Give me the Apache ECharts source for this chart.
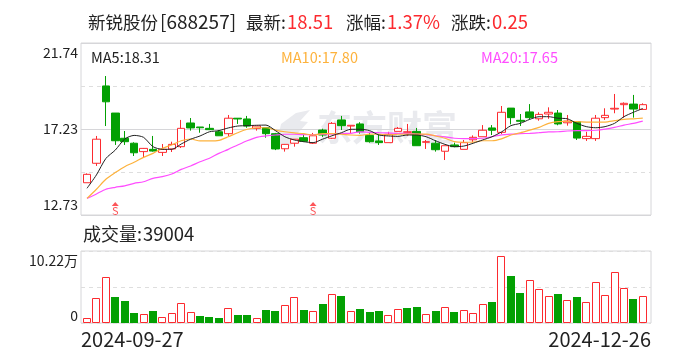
<!DOCTYPE html>
<html><head><meta charset="utf-8">
<style>html,body{margin:0;padding:0;background:#fff}#c{width:688px;height:360px}</style>
<script src="https://cdn.jsdelivr.net/npm/echarts@6/dist/echarts.min.js"></script>
</head><body><div id="c"></div>
<script>
// [open, close, low, high]
const candles = [
[14.42,14.86,14.42,14.91],[15.44,16.70,15.30,16.87],[19.49,18.66,17.39,20.01],[18.07,16.62,16.40,18.07],
[16.75,16.57,16.40,17.13],[16.49,15.99,15.82,16.54],[16.05,16.22,15.75,16.24],[16.17,16.08,16.05,16.87],
[16.01,16.17,15.82,16.45],[16.19,16.43,16.03,16.57],[16.31,17.27,16.24,17.71],[17.55,17.29,17.15,17.81],
[17.34,17.30,17.04,17.34],[17.27,17.20,17.18,17.50],[17.09,16.88,16.87,17.18],[16.99,17.80,16.87,17.97],
[17.80,17.76,17.50,17.81],[17.76,17.39,17.30,17.92],[17.27,17.39,17.15,17.39],[17.30,16.99,16.78,17.30],
[16.99,16.19,16.13,17.03],[16.20,16.43,16.05,16.45],[16.49,16.70,16.31,16.71],[16.78,16.59,16.55,16.92],
[16.49,16.88,16.45,17.03],[17.18,16.92,16.82,17.25],[16.75,17.53,16.71,17.60],[17.71,17.41,17.18,17.92],
[17.39,17.43,17.01,17.44],[17.50,17.09,16.99,17.59],[16.90,16.57,16.52,17.09],[16.61,16.52,16.40,16.92],
[16.52,16.96,16.52,17.09],[17.11,17.27,17.11,17.34],[17.06,17.09,16.88,17.50],[17.11,16.36,16.36,17.29],
[16.54,16.57,16.19,16.66],[16.49,16.15,16.05,16.66],[16.07,16.36,15.61,16.36],[16.40,16.31,16.28,16.52],
[16.17,16.52,16.17,16.66],[16.67,16.80,16.54,16.90],[16.83,17.17,16.83,17.44],[17.29,17.17,16.92,17.44],
[17.06,18.11,16.97,18.44],[18.33,17.83,17.48,18.33],[17.69,17.64,17.39,18.02],[18.13,17.83,17.74,18.54],
[17.77,18.00,17.67,18.11],[18.02,18.11,17.77,18.37],[18.07,17.50,17.43,18.23],[17.56,17.65,17.41,17.97],
[17.62,16.76,16.66,17.62],[16.73,16.85,16.61,17.09],[16.73,17.80,16.61,17.97],[17.83,17.95,17.71,18.32],
[18.28,18.32,18.06,19.07],[18.51,18.58,17.83,18.63],[18.54,18.28,17.83,19.02],[18.26,18.51,18.23,18.58]];
const ma5 = [14.13,14.83,15.69,16.13,16.71,16.90,16.80,16.31,16.17,16.17,16.45,16.70,16.87,17.09,17.15,17.29,17.39,17.41,17.43,17.44,17.15,16.83,16.66,16.57,16.52,16.70,16.88,17.04,17.22,17.22,17.15,16.92,16.87,16.85,16.92,16.92,16.83,16.62,16.43,16.31,16.34,16.49,16.66,16.83,17.08,17.41,17.53,17.74,17.88,17.88,17.80,17.77,17.53,17.36,17.30,17.36,17.53,17.88,18.11,18.31];
const ma10 = [13.60,14.08,14.60,14.95,15.26,15.49,15.75,15.96,16.22,16.40,16.62,16.71,16.61,16.61,16.64,16.83,17.04,17.22,17.30,17.30,17.18,17.09,17.03,16.99,16.92,16.99,16.99,16.96,16.92,16.90,16.97,16.96,16.92,16.96,16.97,16.97,16.97,16.87,16.75,16.57,16.54,16.55,16.62,16.62,16.72,16.92,17.04,17.18,17.32,17.53,17.62,17.64,17.62,17.60,17.59,17.60,17.67,17.74,17.77,17.80];
const ma20 = [13.60,13.83,14.08,14.18,14.26,14.39,14.47,14.65,14.74,14.88,15.12,15.30,15.52,15.70,15.96,16.17,16.40,16.62,16.80,16.87,16.92,16.96,16.96,16.94,16.94,16.96,16.96,17.00,17.01,17.08,17.06,17.04,17.03,17.01,17.01,16.97,16.94,16.88,16.82,16.75,16.73,16.73,16.75,16.83,16.93,16.97,16.99,17.01,17.04,17.08,17.09,17.13,17.15,17.15,17.17,17.23,17.32,17.44,17.53,17.65];
// volume in units of 万
const volumes = [0.76,3.60,6.58,3.64,3.08,1.37,1.32,1.66,0.90,1.47,2.89,1.61,0.95,0.80,0.66,2.08,1.14,1.14,0.66,1.85,1.70,2.51,3.64,1.85,1.66,2.70,4.07,3.83,1.66,1.99,1.56,1.70,1.09,1.94,2.13,2.27,1.23,1.70,2.22,1.56,1.80,1.37,2.65,2.98,9.46,6.67,4.26,6.05,4.78,3.78,4.12,3.22,3.69,2.93,5.77,3.93,7.19,4.92,3.41,3.90];
const volSides = ["R","R","R","G","G","G","R","G","R","R","R","R","G","G","G","R","G","G","R","G","G","R","R","G","R","G","R","G","R","G","G","G","R","R","G","G","R","G","R","G","R","R","R","G","R","G","G","R","R","R","G","R","G","R","R","R","R","R","G","R"];
const signalDays = [3, 24];
const signalPrice = 13.31;
const dates = ["2024-09-27","2024-12-26"];
const priceLabelValues = [12.73, 17.235, 21.74];
const priceTicks = ["12.73","17.23","21.74"];
const volumeLabelValues = [0, 10.22];
const volumeTicks = ["0","10.22万"];
const priceRange = [12.73, 21.74];
const volumeRange = [0, 10.22];
const headerName = ["新锐股份","[688257]"];
const headerItems = [["最新:","18.51"],["涨幅:","1.37%"],["涨跌:","0.25"]];
const maLabels = ["MA5:18.31","MA10:17.80","MA20:17.65"];
const volumeLabel = ["成交量:","39004"];
const watermark = "东方财富";

const RED="#fc2a2f", GREEN="#03a003", FONT='"Noto Sans CJK SC","Noto Sans",sans-serif', INK="#222";
const BORDER="#d6d6d9", DASH="#dedede", ORANGE="#fdb23c", PINK="#ff4dff";
const cats = candles.map((_,i)=>i);
const txt=(x,y,text,fill,size)=>({type:'text',x,y,style:{text,fill,font:`${size}px ${FONT}`,textVerticalAlign:'middle'},silent:true});
const frameBlank=['',''];
const labelBase={color:INK,fontSize:14,fontFamily:FONT,margin:3,showMinLabel:true,showMaxLabel:true,verticalAlignMinLabel:'bottom',verticalAlignMaxLabel:'top'};
const chart=echarts.init(document.getElementById('c'),null,{renderer:'canvas'});
chart.setOption({
 animation:false,
 backgroundColor:'#fff',
 grid:[
  {left:81,top:43,width:570,height:172,show:true,borderColor:BORDER,borderWidth:1,backgroundColor:'transparent'},
  {left:81,top:251,width:570,height:72,show:true,borderColor:BORDER,borderWidth:1,backgroundColor:'transparent'},
  {left:82.3,top:43,width:565.2,height:172},
  {left:82.3,top:251,width:565.2,height:72}
 ],
 xAxis:[
  {gridIndex:0,type:'category',data:frameBlank,boundaryGap:false,axisLine:{show:false},axisTick:{show:false},axisLabel:{show:false},splitLine:{show:false}},
  {gridIndex:1,type:'category',data:dates,boundaryGap:false,axisLine:{show:false},axisTick:{show:false},splitLine:{show:false},
   axisLabel:{color:INK,fontSize:20,fontFamily:FONT,margin:6,interval:0,alignMinLabel:'left',alignMaxLabel:'right'}},
  {gridIndex:2,type:'category',data:cats,show:false},
  {gridIndex:3,type:'category',data:cats,show:false}
 ],
 yAxis:[
  {gridIndex:0,type:'value',min:priceRange[0],max:priceRange[1],interval:(priceRange[1]-priceRange[0])/4,axisLine:{show:false},axisTick:{show:false},
   splitLine:{show:true,lineStyle:{color:DASH,type:[4,4],width:1}},
   axisLabel:Object.assign({},labelBase,{padding:[3,0,3,0],customValues:priceLabelValues,formatter:v=>priceTicks[priceLabelValues.indexOf(v)]})},
  {gridIndex:0,type:'value',min:priceRange[0],max:priceRange[1],interval:(priceRange[1]-priceRange[0])/2,position:'left',axisLine:{show:false},axisTick:{show:false},axisLabel:{show:false},
   splitLine:{show:true,lineStyle:{color:BORDER,width:1}}},
  {gridIndex:1,type:'value',min:volumeRange[0],max:volumeRange[1],interval:(volumeRange[1]-volumeRange[0])/2,axisLine:{show:false},axisTick:{show:false},
   splitLine:{show:true,lineStyle:{color:DASH,type:[4,4],width:1}},
   axisLabel:Object.assign({},labelBase,{padding:[3,0,0,0],customValues:volumeLabelValues,formatter:v=>volumeTicks[volumeLabelValues.indexOf(v)]})},
  {gridIndex:2,type:'value',min:priceRange[0],max:priceRange[1],show:false},
  {gridIndex:3,type:'value',min:volumeRange[0],max:volumeRange[1],show:false}
 ],
 series:[
  {type:'candlestick',xAxisIndex:2,yAxisIndex:3,data:candles,barWidth:8,z:2,silent:true,
   itemStyle:{color:'#fff',color0:GREEN,borderColor:RED,borderColor0:GREEN,borderWidth:1}},
  {type:'line',xAxisIndex:2,yAxisIndex:3,data:ma20,showSymbol:false,smooth:0.25,lineStyle:{color:PINK,width:1.2},z:3,silent:true},
  {type:'line',xAxisIndex:2,yAxisIndex:3,data:ma10,showSymbol:false,smooth:0.25,lineStyle:{color:ORANGE,width:1.2},z:4,silent:true},
  {type:'line',xAxisIndex:2,yAxisIndex:3,data:ma5,showSymbol:false,smooth:0.25,lineStyle:{color:'#222',width:1},z:5,silent:true},
  {type:'scatter',xAxisIndex:2,yAxisIndex:3,data:signalDays.map(d=>[d,signalPrice]),symbol:'triangle',symbolSize:[7,4],itemStyle:{color:RED},z:6,silent:true,
   label:{show:true,position:'bottom',distance:0,formatter:'S',color:RED,fontSize:11,lineHeight:10,fontFamily:FONT}},
  {type:'custom',xAxisIndex:3,yAxisIndex:4,z:2,silent:true,clip:false,
   data:volumes.map((v,i)=>[i,v]),encode:{x:0,y:1},
   renderItem:(params,api)=>{
     const i=api.value(0), top=api.coord([i,api.value(1)]), base=api.coord([i,0]);
     const x=Math.round(top[0]-4), y=Math.round(top[1]), b=Math.round(base[1]);
     return volSides[i]==='R'
       ?{type:'rect',shape:{x:x+0.5,y:y+0.5,width:7,height:b-y-1},style:{fill:'#fff',stroke:RED,lineWidth:1}}
       :{type:'rect',shape:{x:x,y:y,width:8,height:b-y},style:{fill:GREEN}};
   }}
 ],
 graphic:{elements:[
  {type:'text',z:-1,left:317,top:110,silent:true,style:{text:watermark,fill:'#e9eaee',font:`bold 35px ${FONT}`}},
  {type:'polygon',z:-1,silent:true,shape:{points:[[276,147],[281,124],[296,113],[310,110],[300,121],[308,122],[298,133],[303,135],[288,147]]},style:{fill:'#e9eaee'}},
  txt(88,22,headerName[0],INK,17.5),txt(160,22,headerName[1],INK,19),
  txt(246,22,headerItems[0][0],INK,17.5),txt(287,22,headerItems[0][1],RED,18.5),
  txt(346,22,headerItems[1][0],INK,17.5),txt(387,22,headerItems[1][1],RED,18.5),
  txt(451,22,headerItems[2][0],INK,17.5),txt(492,22,headerItems[2][1],RED,18.5),
  txt(91,57,maLabels[0],INK,14.5),txt(281,57,maLabels[1],ORANGE,14.5),txt(481,57,maLabels[2],PINK,14.5),
  txt(83,234,volumeLabel[0],INK,18),txt(143,234,volumeLabel[1],INK,18.5)
 ]}
});
</script></body></html>
